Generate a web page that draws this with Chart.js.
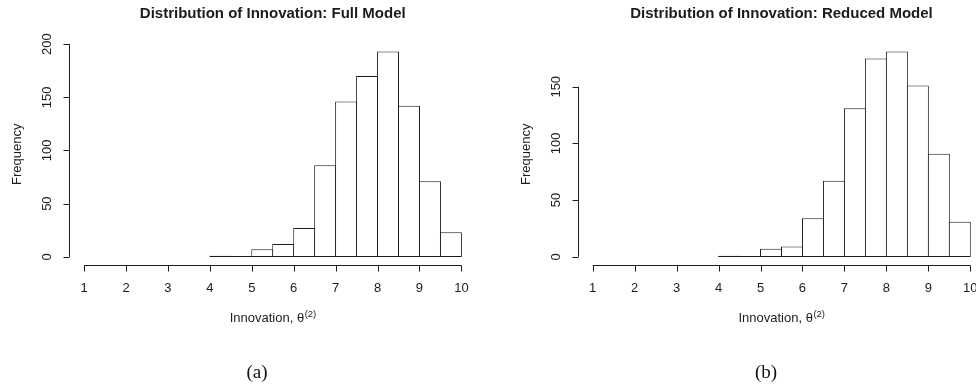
<!DOCTYPE html>
<html>
<head>
<meta charset="utf-8">
<script src="https://cdn.jsdelivr.net/npm/chart.js@4.4.1/dist/chart.umd.min.js"></script>
<style>
    html, body { margin: 0; padding: 0; background: #fff; overflow: hidden; width: 976px; height: 391px; }
    .panel { position: absolute; top: 0; }
    .caption { position: absolute; font-family: "Liberation Serif", "DejaVu Serif", serif; font-size: 19px; color: #111; transform: translate(-50%, -50%); }
</style>
</head>
<body>
<canvas id="chart-full" class="panel" width="490" height="391" style="left:0"></canvas>
<canvas id="chart-reduced" class="panel" width="500" height="391" style="left:490px"></canvas>
<div class="caption" style="left:257px; top:372px">(a)</div>
<div class="caption" style="left:766px; top:372px">(b)</div>
<script>
'use strict';

// histogram bins: left edges, each 0.5 wide
var binStarts = [4, 4.5, 5, 5.5, 6, 6.5, 7, 7.5, 8, 8.5, 9, 9.5];
var binWidth = 0.5;
var fullCounts = [1, 0, 7, 12, 27, 86, 146, 170, 193, 142, 71, 23];
var reducedCounts = [1, 0, 7, 9, 34, 67, 131, 175, 181, 151, 91, 31];

var xTicks = [1, 2, 3, 4, 5, 6, 7, 8, 9, 10];
var fullYTicks = [0, 50, 100, 150, 200];
var reducedYTicks = [0, 50, 100, 150];
var xLimits = [1, 10];

var SANS = '"Liberation Sans", Arial, Helvetica, sans-serif';
var INK = '#1c1c1c';

// base-graphics style axes, titles and labels, all placed through the chart scales
var RAxes = {
    id: 'rAxes',
    afterDraw: function(chart, args, opts) {
        var ctx = chart.ctx, area = chart.chartArea;
        var xs = chart.scales.x, ys = chart.scales.y;
        ctx.save();
        ctx.strokeStyle = INK;
        ctx.fillStyle = INK;
        ctx.lineWidth = 1;

        // bottom edge of the bars
        var yBase = Math.round(ys.getPixelForValue(0)) - 0.5;
        ctx.beginPath();
        ctx.moveTo(xs.getPixelForValue(binStarts[0]), yBase);
        ctx.lineTo(xs.getPixelForValue(binStarts[binStarts.length - 1] + binWidth), yBase);
        ctx.stroke();

        // x axis
        var yAx = Math.round(area.bottom) + 0.5;
        ctx.beginPath();
        ctx.moveTo(xs.getPixelForValue(xTicks[0]), yAx);
        ctx.lineTo(xs.getPixelForValue(xTicks[xTicks.length - 1]), yAx);
        xTicks.forEach(function(t) {
            var px = Math.round(xs.getPixelForValue(t)) + 0.5;
            ctx.moveTo(px, yAx);
            ctx.lineTo(px, yAx + 6);
        });
        ctx.stroke();
        ctx.font = '13px ' + SANS;
        ctx.textAlign = 'center';
        ctx.textBaseline = 'middle';
        xTicks.forEach(function(t) {
            ctx.fillText(String(t), xs.getPixelForValue(t), yAx + 23);
        });

        // y axis
        var xAx = Math.round(area.left) + 0.5;
        var yt = opts.yTicks;
        ctx.beginPath();
        ctx.moveTo(xAx, ys.getPixelForValue(yt[0]));
        ctx.lineTo(xAx, ys.getPixelForValue(yt[yt.length - 1]));
        yt.forEach(function(t) {
            var py = Math.round(ys.getPixelForValue(t)) + 0.5;
            ctx.moveTo(xAx, py);
            ctx.lineTo(xAx - 6, py);
        });
        ctx.stroke();
        yt.forEach(function(t) {
            ctx.save();
            ctx.translate(xAx - 22, ys.getPixelForValue(t));
            ctx.rotate(-Math.PI / 2);
            ctx.fillText(String(t), 0, 0);
            ctx.restore();
        });

        // y label
        var cy = (area.top + area.bottom) / 2;
        ctx.save();
        ctx.translate(xAx - 52, cy);
        ctx.rotate(-Math.PI / 2);
        ctx.fillText('Frequency', 0, 0);
        ctx.restore();

        // x label with superscript
        var cx = (area.left + area.right) / 2;
        var main = 'Innovation, \u03b8';
        var sup = '(2)';
        ctx.font = '13px ' + SANS;
        var wMain = ctx.measureText(main).width;
        ctx.font = '9.5px ' + SANS;
        var wSup = ctx.measureText(sup).width;
        var x0 = cx - (wMain + wSup) / 2;
        var yLab = yAx + 51;
        ctx.textAlign = 'left';
        ctx.textBaseline = 'alphabetic';
        ctx.font = '13px ' + SANS;
        ctx.fillText(main, x0, yLab + 5);
        ctx.font = '9.5px ' + SANS;
        ctx.fillText(sup, x0 + wMain + 0.5, yLab);

        // title
        ctx.font = 'bold 15px ' + SANS;
        ctx.textAlign = 'center';
        ctx.textBaseline = 'middle';
        ctx.fillText(opts.title, cx, 14);

        ctx.restore();
    }
};

function makeHistogram(canvasId, counts, yTicks, title, padding) {
    var canvas = document.getElementById(canvasId);
    var maxCount = Math.max.apply(null, counts);
    var xSpan = xLimits[1] - xLimits[0];
    var points = binStarts.map(function(b, i) {
        return { x: b + binWidth / 2, y: counts[i] };
    });
    var chart = new Chart(canvas, {
        type: 'bar',
        data: {
            datasets: [{
                data: points,
                backgroundColor: '#ffffff',
                borderColor: INK,
                borderSkipped: 'start',
                borderWidth: 1,
                inflateAmount: 0,
                barPercentage: 1,
                categoryPercentage: 1
            }]
        },
        options: {
            responsive: false,
            animation: false,
            devicePixelRatio: 1,
            layout: { padding: padding },
            plugins: {
                legend: { display: false },
                tooltip: { enabled: false },
                rAxes: { title: title, yTicks: yTicks }
            },
            scales: {
                x: {
                    type: 'linear',
                    offset: false,
                    display: false,
                    min: xLimits[0] - 0.04 * xSpan,
                    max: xLimits[1] + 0.04 * xSpan
                },
                y: {
                    display: false,
                    min: -0.04 * maxCount,
                    max: 1.04 * maxCount
                }
            }
        },
        plugins: [RAxes]
    });
    // widen each bar by one pixel so neighbouring borders overlap into a single line
    var binPx = chart.scales.x.getPixelForValue(binWidth) - chart.scales.x.getPixelForValue(0);
    chart.data.datasets[0].barPercentage = (binPx + 1) / binPx;
    chart.update('none');
    return chart;
}

makeHistogram('chart-full', fullCounts, fullYTicks, 'Distribution of Innovation: Full Model',
    { left: 69, right: 13.5, top: 43.4, bottom: 126 });
makeHistogram('chart-reduced', reducedCounts, reducedYTicks, 'Distribution of Innovation: Reduced Model',
    { left: 87.6, right: 4.6, top: 43.4, bottom: 126 });
</script>
</body>
</html>
